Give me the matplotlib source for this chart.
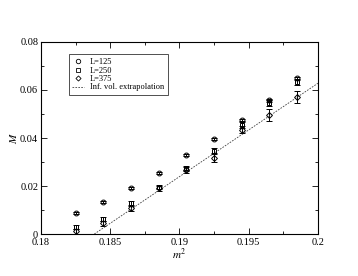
import numpy as np
from matplotlib import pyplot as plt
from matplotlib.lines import Line2D
from matplotlib.ticker import MultipleLocator

# data
m2 = [0.1825, 0.1845, 0.1865, 0.1885, 0.1905, 0.1925, 0.1945, 0.1965, 0.1985]
M_125 = [0.0087, 0.0132, 0.0191, 0.0253, 0.0329, 0.0396, 0.0475, 0.0558, 0.0648]
err_125 = [0.0004, 0.0004, 0.0004, 0.0004, 0.0005, 0.0005, 0.0005, 0.0006, 0.0006]
M_250 = [0.0028, 0.0062, 0.0128, 0.0197, 0.0274, 0.0347, 0.0455, 0.0545, 0.0632]
err_250 = [0.0008, 0.0008, 0.0009, 0.0009, 0.0010, 0.0012, 0.0012, 0.0012, 0.0013]
M_375 = [0.0012, 0.0045, 0.0107, 0.0190, 0.0267, 0.0318, 0.0435, 0.0496, 0.0571]
err_375 = [0.0010, 0.0010, 0.0011, 0.0012, 0.0014, 0.0020, 0.0016, 0.0025, 0.0024]
extrap_m2 = [0.18385, 0.2]
extrap_M = [0.0, 0.0628]
labels = ["L=125", "L=250", "L=375", "Inf. vol. extrapolation"]


def main():
    plt.rcParams["font.family"] = ["Liberation Serif", "DejaVu Serif"]
    plt.rcParams["mathtext.fontset"] = "stix"

    fig = plt.figure(figsize=(3.58, 2.76), dpi=100)
    ax = fig.add_axes([0.1145, 0.152, 0.7735, 0.696])

    style = dict(color="black", mfc="none", mew=0.7, ms=3.5, lw=0,
                 elinewidth=0.7, capsize=2, capthick=0.7)
    ax.errorbar(m2, M_125, yerr=err_125, fmt="o", **style)
    ax.errorbar(m2, M_250, yerr=err_250, fmt="s", **style)
    ax.errorbar(m2, M_375, yerr=err_375, fmt="D", **dict(style, ms=3.0))
    ax.plot(extrap_m2, extrap_M, color="0.25", lw=0.6, dashes=(2, 1.5))

    ax.set_xlim(0.18, 0.2)
    ax.set_ylim(0, 0.08)
    ax.xaxis.set_minor_locator(MultipleLocator(0.0025))
    ax.yaxis.set_minor_locator(MultipleLocator(0.01))
    ax.set_xticks([0.18, 0.185, 0.19, 0.195, 0.2])
    ax.set_xticklabels(["0.18", "0.185", "0.19", "0.195", "0.2"])
    ax.set_yticks([0, 0.02, 0.04, 0.06, 0.08])
    ax.set_yticklabels(["0", "0.02", "0.04", "0.06", "0.08"])
    ax.tick_params(which="both", direction="in", top=True, right=True,
                   labelsize=7.5, width=0.6)
    ax.tick_params(axis="x", pad=3)
    ax.tick_params(axis="y", pad=2)
    ax.tick_params(which="major", length=4)
    ax.tick_params(which="minor", length=2)
    for s in ax.spines.values():
        s.set_linewidth(0.8)

    ax.set_xlabel("$m^2$", fontsize=8, labelpad=0)
    ax.set_ylabel("$M$", fontsize=8, labelpad=1)

    mk = dict(color="black", mfc="none", mew=0.6, lw=0)
    handles = [Line2D([], [], marker="o", ms=3.2, **mk),
               Line2D([], [], marker="s", ms=3.0, **mk),
               Line2D([], [], marker="D", ms=2.6, **mk),
               Line2D([], [], color="0.25", lw=0.6, dashes=(2, 1.5))]
    leg = ax.legend(handles, labels, loc="upper left",
                    bbox_to_anchor=(0.1, 0.935),
                    fontsize=6, frameon=True, fancybox=False,
                    edgecolor="black", handlelength=1.4, handletextpad=0.7,
                    borderpad=0.45, labelspacing=0.05, borderaxespad=0)
    leg.get_frame().set_linewidth(0.6)

    fig.savefig("out.png", dpi=100)


if __name__ == '__main__':
    main()
